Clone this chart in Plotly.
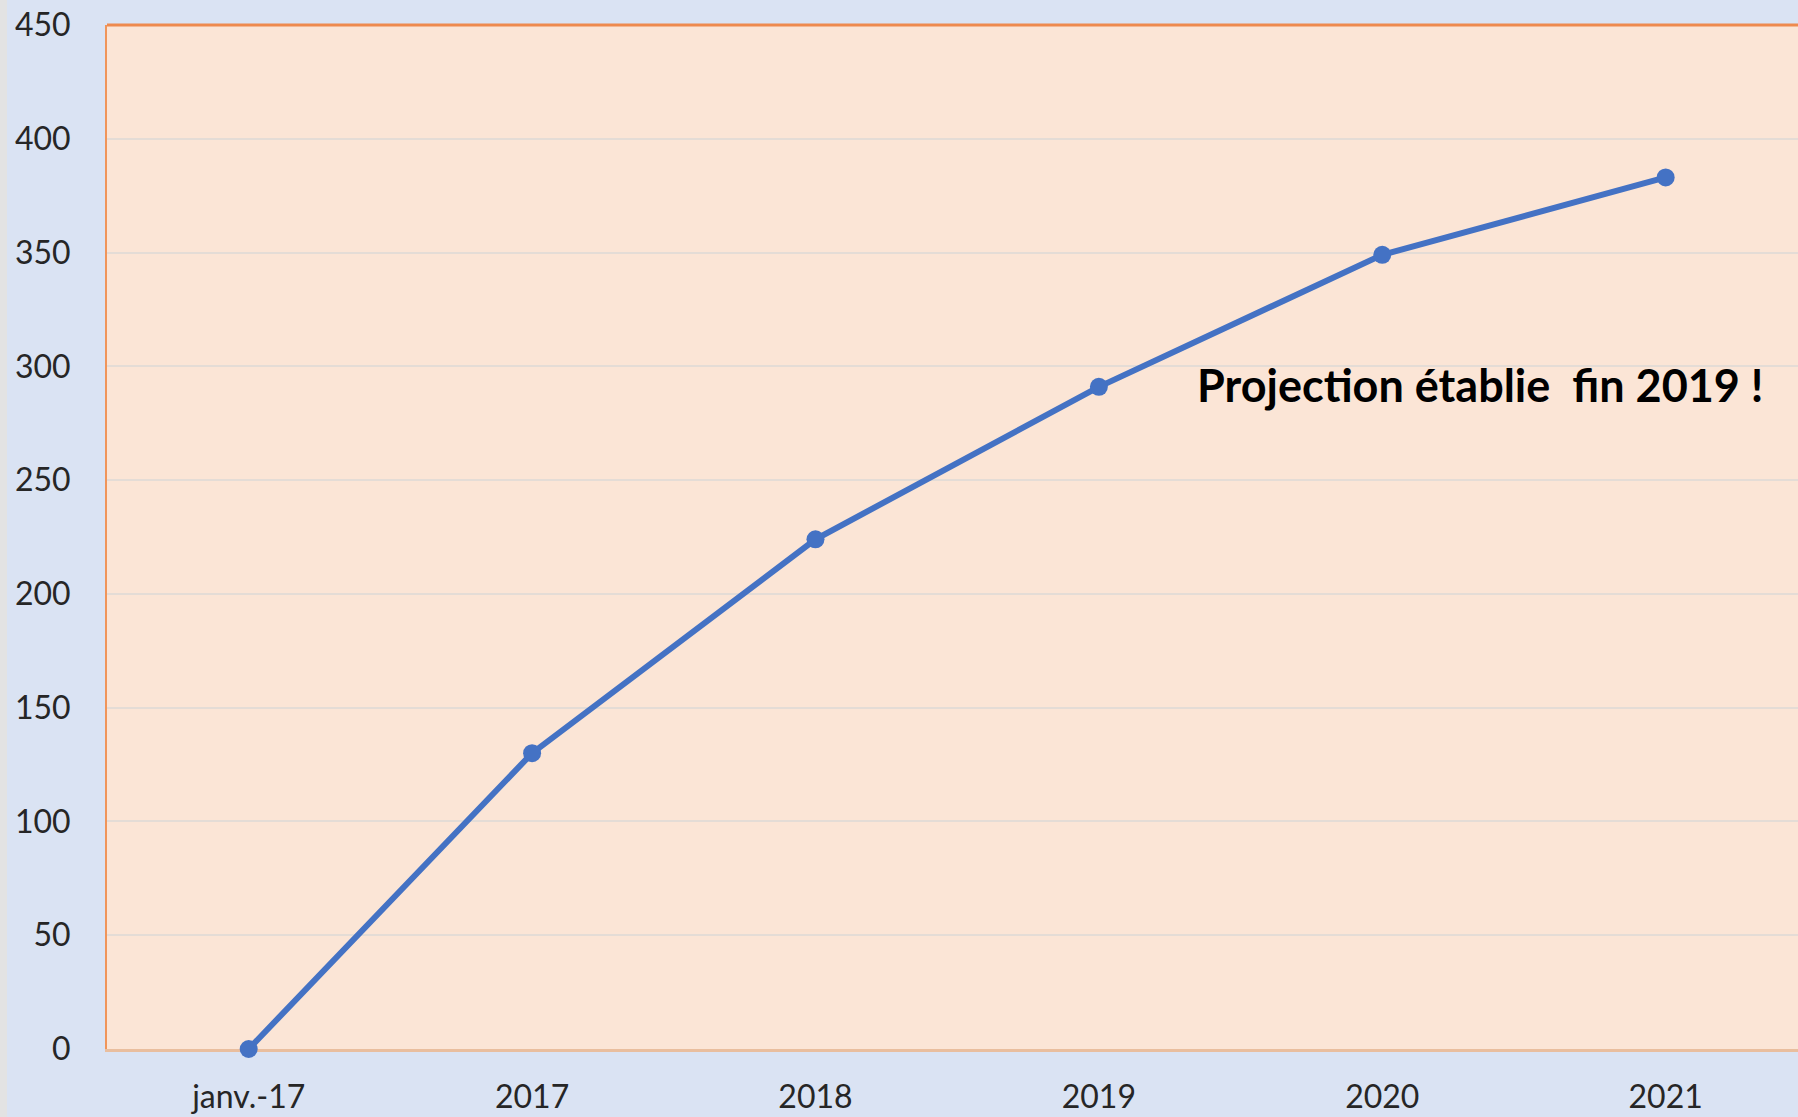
import plotly.graph_objects as go

categories = ["janv.-17", "2017", "2018", "2019", "2020", "2021"]
values = [0, 130, 224, 291, 349, 383]
y_ticks = [0, 50, 100, 150, 200, 250, 300, 350, 400, 450]
annotation_text = "Projection établie\u00a0 fin 2019 !"

W, H = 1798, 1117
ML, MR, MT, MB = 107, 0, 25, 68

fig = go.Figure()
fig.add_trace(go.Scatter(
    x=list(range(len(categories))), y=values, mode="lines+markers",
    line=dict(color="#4472C4", width=6),
    marker=dict(color="#4472C4", size=18),
    cliponaxis=False,
    showlegend=False, hoverinfo="skip",
))

fig.update_layout(
    width=W, height=H,
    margin=dict(l=ML, r=MR, t=MT, b=MB),
    paper_bgcolor="#DAE3F3",
    plot_bgcolor="#FBE5D6",
    font=dict(family="Lato, Open Sans, sans-serif", size=32, color="#262626"),
    xaxis=dict(
        tickmode="array", tickvals=list(range(len(categories))), ticktext=categories,
        range=[-0.5, 5.467], showgrid=False, zeroline=False,
        showline=True, linecolor="#E9BE9E", linewidth=3,
        ticks="", ticklabelstandoff=18, layer="below traces",
    ),
    yaxis=dict(
        range=[0, 450], tickvals=y_ticks, showgrid=True,
        gridcolor="#E4DCD6", gridwidth=2, zeroline=False,
        showline=True, linecolor="#F0955A", linewidth=2,
        ticks="", ticklabelstandoff=28, layer="below traces",
    ),
    shapes=[
        dict(type="line", xref="paper", yref="paper", x0=0, x1=1, y0=1, y1=1,
             line=dict(color="#EE8A4E", width=3)),
        dict(type="rect", xref="paper", yref="paper", x0=-ML / (W - ML), x1=-(ML - 7) / (W - ML),
             y0=-MB / (H - MT - MB), y1=1 + MT / (H - MT - MB),
             fillcolor="#E3E3E3", line=dict(width=0), layer="above"),
    ],
    annotations=[
        dict(x=3.34, y=292, xref="x", yref="y", text=annotation_text, showarrow=False,
             xanchor="left", yanchor="middle",
             font=dict(family="Lato, Open Sans, sans-serif", size=45, color="#000000", weight="bold")),
    ],
)

fig.write_html(
    "out.html",
    config={"displayModeBar": False},
    post_script="document.body.style.margin='0';document.body.style.background='#DAE3F3';",
)
